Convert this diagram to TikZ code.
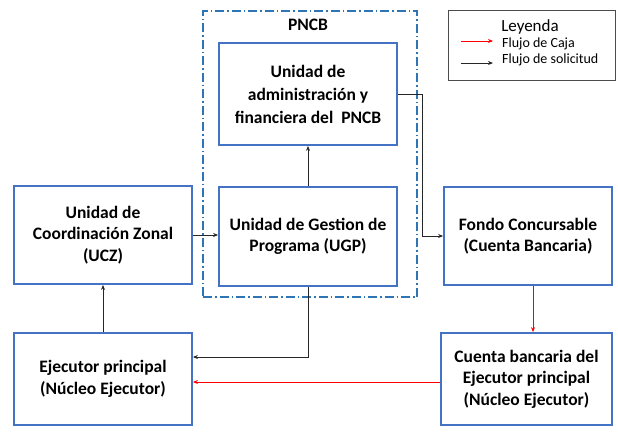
\documentclass[tikz,border=0pt]{standalone}
\usepackage{fontspec}
\setmainfont{Carlito}
\usetikzlibrary{arrows.meta,calc}
\definecolor{boxblue}{HTML}{4472C4}
\definecolor{dashblue}{HTML}{2E75B6}
\definecolor{flowred}{HTML}{FF0000}
\tikzset{
  unitbox/.style={draw=boxblue,line width=1.8pt,fill=white,align=center,font=\fontsize{17.5}{21.5}\selectfont\bfseries,inner sep=2pt},
  flow/.style={draw=black!85,line width=0.7pt,-{Stealth[length=5pt,width=4pt]}},
  cash/.style={draw=flowred,line width=0.7pt,-{Stealth[length=5pt,width=4pt]}},
}
\begin{document}
\begin{tikzpicture}[x=1pt,y=-1pt]
\useasboundingbox (0,0) rectangle (618,432);
% PNCB group
\node[draw=dashblue,line width=1.8pt,dash pattern=on 9pt off 3pt on 1.5pt off 3pt,minimum width=214pt,minimum height=286pt,inner sep=0pt] (pncb) at (310,154) {};
\node[font=\fontsize{17.5}{20}\selectfont\bfseries] (pncblabel) at (308,25) {PNCB};
% boxes
\node[unitbox,font=\fontsize{17.5}{23}\selectfont\bfseries,minimum width=178pt,minimum height=102pt] (adm) at (308,94) {Unidad de\\administración y\\financiera del~ PNCB};
\node[unitbox,minimum width=178pt,minimum height=99pt] (ugp) at (308,236.5) {Unidad de Gestion de\\Programa (UGP)};
\node[unitbox,minimum width=178pt,minimum height=98pt] (ucz) at (103,235) {Unidad de\\Coordinación Zonal\\(UCZ)};
\node[unitbox,minimum width=178pt,minimum height=92pt] (ejec) at (103,379) {Ejecutor principal\\(Núcleo Ejecutor)};
\node[unitbox,minimum width=168pt,minimum height=98pt] (fondo) at (528,236) {Fondo Concursable\\(Cuenta Bancaria)};
\node[unitbox,minimum width=171pt,minimum height=92pt] (cuenta) at (526.5,379) {Cuenta bancaria del\\Ejecutor principal\\(Núcleo Ejecutor)};
% legend
\node[draw=black!70,line width=0.8pt,minimum width=167pt,minimum height=70pt,inner sep=0pt] (leg) at (531.5,45) {};
\node[font=\fontsize{17}{19}\selectfont] (legtitle) at (530,27) {Leyenda};
\coordinate (r1) at (461,41); \coordinate (r2) at (493,41);
\coordinate (b1) at (461,63); \coordinate (b2) at (493,63);
\draw[cash] (r1) -- (r2);
\draw[flow] (b1) -- (b2);
\node[anchor=west,font=\fontsize{14}{16}\selectfont,inner sep=0pt] (legcash) at (502,44) {Flujo de Caja};
\node[anchor=west,font=\fontsize{14}{16}\selectfont,inner sep=0pt] (legreq) at (502,60) {Flujo de solicitud};
% connectors
\draw[flow] (ugp.north) -- (adm.south);
\coordinate (admturn) at (422,94);
\draw[flow] (adm.east) -- (admturn) |- (fondo.west);
\draw[flow] (ucz.east) -- (ugp.west |- ucz.east);
\draw[flow] (ejec.north) -- (ucz.south);
\draw[flow] (ugp.south) |- ($(ejec.east)+(0,-22)$);
\draw[cash] ($(fondo.south)+(5,0)$) -- ($(cuenta.north)+(6.5,0)$);
\draw[cash] ($(cuenta.west)+(0,3)$) -- ($(ejec.east)+(0,3)$);
\end{tikzpicture}
\end{document}
